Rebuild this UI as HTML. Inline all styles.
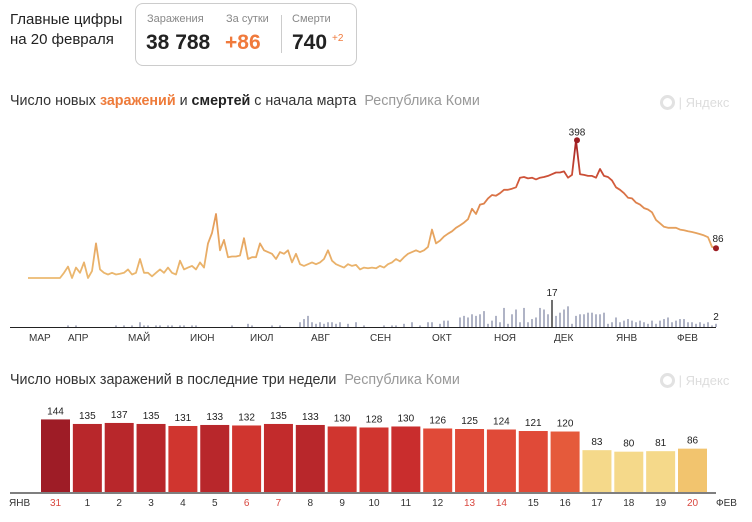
<!DOCTYPE html>
<html><head><meta charset="utf-8"><style>
body{margin:0;width:752px;height:522px;background:#fff;font-family:"Liberation Sans","Noto Sans CJK SC",sans-serif;overflow:hidden;position:relative}
.a{position:absolute;white-space:nowrap}
</style></head><body>
<div class="a" style="left:10px;top:10px;font-size:15px;line-height:20px;color:#222">Главные цифры<br>на 20 февраля</div>
<div class="a" style="left:135px;top:3px;width:220px;height:61px;border:1px solid #ccc;border-radius:8px"></div>
<div class="a" style="left:147px;top:13px;font-size:11px;color:#888">Заражения</div>
<div class="a" style="left:226px;top:13px;font-size:11px;color:#888">За сутки</div>
<div class="a" style="left:292px;top:13px;font-size:11px;color:#888">Смерти</div>
<div class="a" style="left:281px;top:15px;width:1px;height:38px;background:#ccc"></div>
<div class="a" style="left:146px;top:31px;font-size:21px;font-weight:bold;color:#222">38 788</div>
<div class="a" style="left:225px;top:31px;font-size:21px;font-weight:bold;color:#f07a3c">+86</div>
<div class="a" style="left:292px;top:31px;font-size:21px;font-weight:bold;color:#222">740</div>
<div class="a" style="left:332px;top:33px;font-size:10px;color:#f07a3c">+2</div>

<div class="a" style="left:10px;top:93px;font-size:14.3px;color:#333">Число новых <b style="color:#ee7b3a">заражений</b> и <b style="color:#222">смертей</b> с начала марта <span style="color:#999;margin-left:4px">Республика Коми</span></div>
<div class="a" style="left:10px;top:372px;font-size:14.3px;color:#333">Число новых заражений в последние три недели <span style="color:#999;margin-left:4px">Республика Коми</span></div>
<div class="a" style="left:660px;top:95px;font-size:13px;color:#ddd"><span style="display:inline-block;width:9px;height:9px;border:3px solid #e2e2e2;border-radius:50%;vertical-align:-3px"></span> | Яндекс</div>
<div class="a" style="left:660px;top:373px;font-size:13px;color:#ddd"><span style="display:inline-block;width:9px;height:9px;border:3px solid #e2e2e2;border-radius:50%;vertical-align:-3px"></span> | Яндекс</div>

<svg class="a" style="left:0;top:0" width="752" height="522" id="svg">
<defs><linearGradient id="lg" gradientUnits="userSpaceOnUse" x1="0" y1="278" x2="0" y2="140">
<stop offset="0" stop-color="#ebb970"/><stop offset="0.45" stop-color="#e49a58"/><stop offset="0.7" stop-color="#d2573a"/><stop offset="1" stop-color="#a21e22"/></linearGradient></defs>
</svg>
<script>
const cases=[0,0,0,0,0,0,0,0,0,15,33,0,30,15,45,0,20,100,25,15,10,15,10,12,15,25,10,15,55,15,15,5,15,25,15,30,15,10,50,25,30,35,25,45,30,100,130,185,80,110,60,62,62,65,115,55,60,60,100,80,75,70,55,75,70,80,45,70,40,35,40,45,40,45,55,80,50,40,35,30,40,35,38,25,30,28,30,28,
35,30,40,45,55,48,60,70,75,80,75,80,90,140,100,108,120,128,135,145,152,160,170,200,185,212,215,230,240,238,245,255,255,258,262,290,292,288,290,285,290,292,295,300,305,305,308,290,298,398,300,298,295,295,290,315,295,292,282,262,255,245,232,230,218,212,202,198,190,168,158,148,145,145,145,140,138,135,133,130,127,123,118,90,86];
const deaths=[0,0,0,0,0,0,0,0,0,0,1,0,1,0,0,0,0,0,0,0,0,0,1,0,1,0,1,0,3,1,1,0,1,1,0,1,1,0,1,1,0,1,1,0,0,0,0,0,0,0,0,1,0,0,0,2,1,0,0,0,0,1,0,1,0,0,0,0,3,5,7,3,2,3,2,3,3,2,3,0,2,0,3,0,1,0,0,0,0,1,0,1,1,0,2,0,3,0,1,0,3,3,0,2,4,4,0,0,6,7,6,8,7,8,10,2,4,7,3,12,2,8,11,3,12,3,5,6,12,11,8,17,7,9,11,13,2,7,8,8,9,9,8,8,9,2,3,6,3,4,5,4,3,4,3,2,4,2,4,5,6,3,4,5,5,3,3,2,3,2,3,1,2];
const months=["МАР","АПР","МАЙ","ИЮН","ИЮЛ","АВГ","СЕН","ОКТ","НОЯ","ДЕК","ЯНВ","ФЕВ"];
const monthStartSample=[0,9.75,24.75,40.25,55.25,70.5,85.25,100.75,116.25,131.25,146.75,162];
const barDays=["31","1","2","3","4","5","6","7","8","9","10","11","12","13","14","15","16","17","18","19","20"];
const barValues=[144,135,137,135,131,133,132,135,133,130,128,130,126,125,124,121,120,83,80,81,86];
const barWeekend=[1,0,0,0,0,0,1,1,0,0,0,0,0,1,1,0,0,0,0,0,1];
const NS="http://www.w3.org/2000/svg",svg=document.getElementById('svg');
function mk(t,a){const e=document.createElementNS(NS,t);for(const k in a)e.setAttribute(k,a[k]);svg.appendChild(e);return e;}
const xS=i=>28+i*4, yS=v=>278-v*0.346, dS=v=>v*1.59;
deaths.forEach((d,i)=>{if(!d)return;const r=mk('rect',{x:xS(i)-0.7,y:327-dS(d),width:1.4,height:dS(d),fill:d>=15?'#333':'#8f95ad'});

});
let ax=mk('line',{x1:10,x2:716,y1:327.5,y2:327.5,stroke:'#222','stroke-width':1});


const p=mk('path',{d:cases.map((v,i)=>(i?'L':'M')+xS(i)+','+yS(v).toFixed(1)).join(''),fill:'none',stroke:'url(#lg)','stroke-width':1.8,'stroke-linejoin':'round'});


months.forEach((m,i)=>{const t=mk('text',{x:xS(monthStartSample[i])+1,y:341,'font-size':10,fill:'#333'});t.textContent=m;

});
let mi=cases.indexOf(Math.max(...cases)),li=cases.length-1;
[[mi,'398'],[li,'86']].forEach(([i,l],k)=>{const c=mk('circle',{cx:xS(i)+(k?0:1),cy:yS(cases[i]),r:3,fill:'#9c1d22'});


const t=mk('text',{x:xS(i)+(k?2:1),y:yS(cases[i])-(k?6:5),'font-size':10,fill:'#222','text-anchor':'middle'});t.textContent=l;

});
let di=deaths.indexOf(Math.max(...deaths));
let t1=mk('text',{x:xS(di),y:327-dS(deaths[di])-4,'font-size':10,fill:'#222','text-anchor':'middle'});t1.textContent=String(deaths[di]);


let t2=mk('text',{x:xS(li),y:327-dS(deaths[li])-4,'font-size':10,fill:'#222','text-anchor':'middle'});t2.textContent=String(deaths[li]);


const colors=['#9e1c26','#b8272b','#b8272b','#b8272b','#d0352f','#b8272b','#d0352f','#c22b2c','#b8272b','#d0352f','#d0352f','#c92d2d','#e04a38','#e04a38','#e04a38','#e04a38','#e55a3b','#f5d98a','#f5d98a','#f5d98a','#f2c46e'];
const bx=i=>41+i*31.85, bh=v=>v*0.504;
let bax=mk('line',{x1:10,x2:716,y1:493,y2:493,stroke:'#555','stroke-width':1.5});


barValues.forEach((v,i)=>{const r=mk('rect',{x:bx(i),y:492-bh(v),width:29,height:bh(v),fill:colors[i]});


const t=mk('text',{x:bx(i)+14.5,y:492-bh(v)-5,'font-size':10,fill:'#222','text-anchor':'middle'});t.textContent=v;


const d=mk('text',{x:bx(i)+14.5,y:506,'font-size':10,fill:barWeekend[i]?'#d9473f':'#333','text-anchor':'middle'});d.textContent=barDays[i];

});
let j=mk('text',{x:9,y:506,'font-size':10,fill:'#333'});j.textContent='ЯНВ';


let f=mk('text',{x:716,y:506,'font-size':10,fill:'#333'});f.textContent='ФЕВ';


</script>
</body></html>
